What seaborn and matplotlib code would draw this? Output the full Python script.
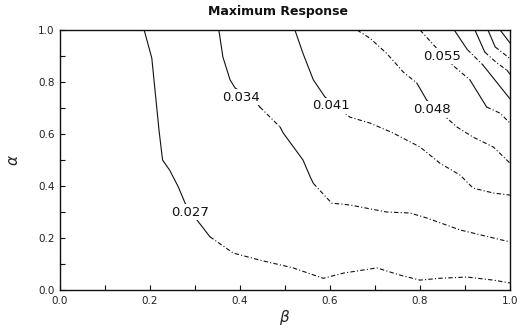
import numpy as np
import pandas as pd
import matplotlib
matplotlib.use("Agg")
import matplotlib.pyplot as plt
import seaborn as sns

# ---- data (beta, alpha points along each contour) ----
levels = ["0.027", "0.034", "0.041", "0.048", "0.055", "0.062", "0.069", "0.076", "0.083"]

c027_beta = [0.187, 0.204, 0.220, 0.226, 0.228, 0.244, 0.263, 0.278, 0.304, 0.333, 0.385,
             0.444, 0.518, 0.585, 0.630, 0.704, 0.756, 0.800, 0.844, 0.904, 0.963, 1.0]
c027_alpha = [1.0, 0.892, 0.615, 0.527, 0.500, 0.460, 0.396, 0.334, 0.270, 0.205, 0.142,
              0.115, 0.085, 0.045, 0.065, 0.085, 0.057, 0.038, 0.045, 0.050, 0.038, 0.027]

c034_beta = [0.353, 0.362, 0.378, 0.389, 0.433, 0.444, 0.489, 0.496, 0.540, 0.556, 0.563,
             0.593, 0.604, 0.644, 0.726, 0.778, 0.815, 0.889, 0.963, 1.0]
c034_alpha = [1.0, 0.896, 0.808, 0.777, 0.730, 0.704, 0.627, 0.604, 0.500, 0.435, 0.410,
              0.354, 0.334, 0.327, 0.300, 0.296, 0.277, 0.231, 0.200, 0.185]

c041_beta = [0.522, 0.540, 0.563, 0.589, 0.644, 0.689, 0.740, 0.800, 0.844, 0.889, 0.918, 0.963, 1.0]
c041_alpha = [1.0, 0.910, 0.808, 0.742, 0.665, 0.642, 0.604, 0.550, 0.488, 0.442, 0.392, 0.373, 0.365]

c048_beta = [0.660, 0.689, 0.726, 0.763, 0.793, 0.815, 0.882, 0.918, 0.963, 1.0]
c048_alpha = [1.0, 0.968, 0.910, 0.838, 0.796, 0.730, 0.627, 0.588, 0.550, 0.488]

c055_beta = [0.800, 0.829, 0.867, 0.911, 0.948, 0.978, 1.0]
c055_alpha = [1.0, 0.945, 0.873, 0.808, 0.704, 0.680, 0.642]

c062_beta = [0.876, 0.905, 0.940, 0.970, 1.0]
c062_alpha = [1.0, 0.925, 0.865, 0.800, 0.735]

c069_beta = [0.922, 0.944, 0.971, 0.993, 1.0]
c069_alpha = [1.0, 0.915, 0.873, 0.846, 0.830]

c076_beta = [0.951, 0.967, 1.0]
c076_alpha = [1.0, 0.935, 0.890]

c083_beta = [0.978, 1.0]
c083_alpha = [1.0, 0.950]

# labelled contours and where their labels sit
label_levels = ["0.027", "0.034", "0.041", "0.048", "0.055"]
label_beta = [0.289, 0.402, 0.602, 0.827, 0.849]
label_alpha = [0.300, 0.742, 0.708, 0.696, 0.900]

tick_values = [0.0, 0.2, 0.4, 0.6, 0.8, 1.0]
tick_labels = ["0.0", "0.2", "0.4", "0.6", "0.8", "1.0"]

title = "Maximum Response"

contours = [
    (c027_beta, c027_alpha), (c034_beta, c034_alpha), (c041_beta, c041_alpha),
    (c048_beta, c048_alpha), (c055_beta, c055_alpha), (c062_beta, c062_alpha),
    (c069_beta, c069_alpha), (c076_beta, c076_alpha), (c083_beta, c083_alpha),
]

# ---- figure ----
sns.set_style("ticks")
plt.rcParams["font.family"] = ["DejaVu Sans"]

W, H = 520, 329
fig = plt.figure(figsize=(W / 100, H / 100), dpi=100)
ax = fig.add_axes([60 / W, 39 / H, 450 / W, 260 / H])

solid = "-"
dashed = (0, (4, 2, 1, 2))

for lev, (bx, ay) in zip(levels, contours):
    bx = np.asarray(bx)
    ay = np.asarray(ay)
    # steep stretches print solid; shallow stretches print broken (as in the scan)
    slope = np.abs(np.diff(ay) * 260) / np.maximum(np.abs(np.diff(bx) * 450), 1e-9)
    styles = ["s" if s >= 1.15 else "d" for s in slope]
    start = 0
    for i in range(1, len(styles) + 1):
        if i == len(styles) or styles[i] != styles[start]:
            seg = pd.DataFrame({"beta": bx[start:i + 1], "alpha": ay[start:i + 1]})
            sns.lineplot(data=seg, x="beta", y="alpha", sort=False, estimator=None,
                         color="#111111", linewidth=0.8,
                         linestyle=solid if styles[start] == "s" else dashed, ax=ax)
            start = i

for txt, bx, ay in zip(label_levels, label_beta, label_alpha):
    ax.text(bx, ay, txt, fontsize=9.5, ha="center", va="center", color="#111111",
            bbox=dict(boxstyle="square,pad=0.1", fc="white", ec="none"), zorder=5)

ax.set_xlim(0, 1)
ax.set_ylim(0, 1)
ax.set_xticks(tick_values)
ax.set_xticklabels(tick_labels)
ax.set_yticks(tick_values)
ax.set_yticklabels(tick_labels)
ax.set_xticks(np.arange(0.1, 1.0, 0.2), minor=True)
ax.set_yticks(np.arange(0.1, 1.0, 0.2), minor=True)
ax.tick_params(which="both", direction="in", length=3.5, width=0.8, color="#111111",
               labelsize=7.5, labelcolor="#222222", pad=4)
for sp in ax.spines.values():
    sp.set_visible(True)
    sp.set_color("#111111")
    sp.set_linewidth(1.0)

ax.set_xlabel(r"$\beta$", fontsize=11, labelpad=2)
ax.set_ylabel(r"$\alpha$", fontsize=11, labelpad=12)
fig.text(278 / W, 1 - 12 / H, title, fontsize=9, fontweight="bold",
         ha="center", va="center", color="#111111")

fig.savefig("out.png", dpi=100)
